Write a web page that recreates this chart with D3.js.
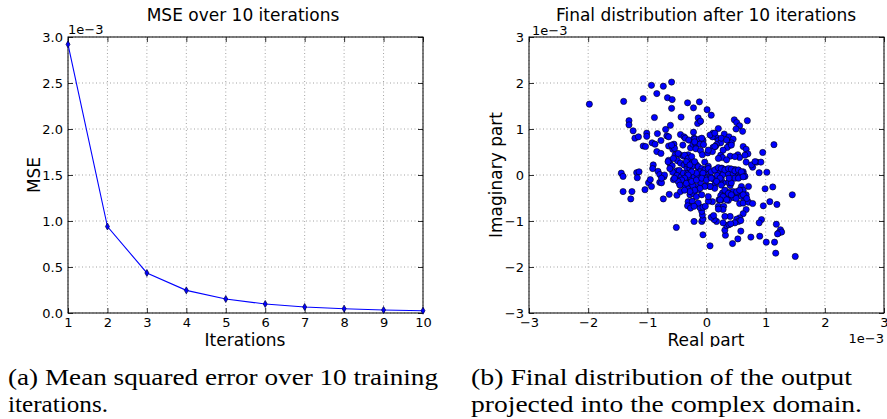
<!DOCTYPE html>
<html>
<head>
<meta charset="utf-8">
<script src="https://cdn.jsdelivr.net/npm/d3@7"></script>
<style>
  body { margin: 0; background: #fff; }
  svg { display: block; }
  .tick text { font-family: "DejaVu Sans", sans-serif; font-size: 13px; fill: #000; }
  .domain { display: none; }
  .caption { font-family: 'Liberation Serif', 'Times New Roman', serif; }
</style>
</head>
<body>
<script>
// left panel: MSE per training iteration (values are x1e-3)
const iterations = [1, 2, 3, 4, 5, 6, 7, 8, 9, 10];
const mseValues = [2.92, 0.94, 0.435, 0.246, 0.152, 0.098, 0.065, 0.047, 0.033, 0.025];
const mseTicks = [0, 0.5, 1.0, 1.5, 2.0, 2.5, 3.0];

// right panel: final outputs in the complex plane, [real, imaginary] x1e-3
const complexTicks = [-3, -2, -1, 0, 1, 2, 3];
const finalPoints = [
  [-1.98,1.54],[-1.40,1.60],[-1.07,1.66],[-0.93,1.95],[-0.73,1.93],[-0.59,2.02],[-0.84,1.77],[-0.66,1.68],
  [-0.58,1.64],[-0.59,1.45],[-0.32,1.57],[-0.22,1.46],[-1.31,1.18],[-1.31,1.09],[-1.24,0.96],[-1.21,0.80],
  [-1.15,0.83],[-1.01,0.91],[-1.01,0.84],[-1.07,0.63],[-1.03,0.62],[-0.88,1.25],[-0.83,0.90],[-0.92,0.70],
  [-0.87,0.67],[-0.77,0.75],[-0.69,0.99],[-0.61,1.08],[-0.67,0.85],[-0.64,0.83],[-0.43,1.26],[-0.44,0.88],
  [-0.38,0.83],[-0.36,0.80],[-0.30,0.76],[-0.27,0.59],[-0.23,0.67],[-0.22,0.93],[-0.21,0.80],[-0.84,0.51],
  [-0.77,0.47],[-0.64,0.63],[-0.55,0.67],[-0.57,0.56],[-0.53,0.44],[-0.45,0.44],[-0.39,0.41],[-0.31,0.44],
  [-0.64,0.32],[-0.62,0.25],[-0.58,0.20],[-0.49,0.31],[-0.44,0.26],[-0.38,0.22],[-0.33,0.15],[-0.28,0.14],
  [-0.23,0.22],[-0.21,0.28],[-0.90,0.22],[-0.91,0.14],[-0.82,0.08],[-0.50,0.09],[-1.44,0.04],[-1.18,0.05],
  [-1.14,0.07],[-0.28,0.33],[-0.32,0.24],
  [-0.12,1.59],[0.01,1.42],[0.08,1.30],[-0.14,1.24],[-0.11,1.16],[-0.15,1.12],[-0.10,1.17],[0.47,1.20],
  [0.51,1.14],[0.56,1.07],[0.61,0.95],[0.69,1.18],[0.50,1.00],[0.20,1.01],[0.11,0.91],[0.13,0.86],
  [0.16,0.82],[0.10,0.83],[0.30,0.89],[0.38,0.83],[0.45,0.78],[1.14,0.66],[0.20,0.75],[0.24,0.70],
  [0.17,0.66],[0.11,0.60],[0.15,0.62],[0.42,0.70],[0.38,0.64],[0.35,0.60],[0.62,0.62],[0.67,0.56],
  [0.70,0.46],[0.95,0.49],[-0.20,0.78],[-0.12,0.78],[-0.06,0.76],[-0.19,0.69],[-0.11,0.67],[-0.05,0.66],
  [-0.18,0.57],[-0.10,0.53],[-0.07,0.44],[0.02,0.48],[0.10,0.51],[0.24,0.43],[0.27,0.38],[0.53,0.44],
  [0.56,0.38],[0.40,0.41],[0.67,0.28],[0.78,0.17],[0.85,0.28],[0.92,0.28],[0.89,0.05],[1.02,0.06],
  [-0.21,0.26],[-0.17,0.22],[-0.24,0.19],[-0.14,0.15],[-0.03,0.28],[0.03,0.19],[-0.06,0.12],[0.00,0.07],
  [0.16,0.12],[0.26,0.15],[0.33,0.12],[0.41,0.13],[0.48,0.12],[0.55,0.08],[0.62,0.07],[0.28,0.07],
  [0.37,0.07],[0.45,0.07],[0.20,0.04],
  [-1.41,-0.03],[-1.17,-0.06],[-1.41,-0.36],[-1.26,-0.36],[-1.28,-0.52],[-1.04,-0.32],[-0.98,-0.17],[-0.95,-0.10],
  [-0.93,-0.25],[-0.79,0.01],[-0.72,-0.04],[-0.79,-0.16],[-0.76,-0.17],[-0.73,-0.52],[-0.63,-0.42],[-0.50,-0.44],
  [-0.44,-0.36],[-0.51,-1.14],[-0.57,0.06],[-0.46,0.10],[-0.50,-0.01],[-0.56,-0.10],[-0.47,-0.12],[-0.43,-0.04],
  [-0.39,0.04],[-0.36,-0.10],[-0.45,-0.21],[-0.36,-0.23],[-0.31,-0.30],[-0.28,-0.17],[-0.24,-0.10],[-0.22,0.01],
  [-0.32,0.03],[-0.28,-0.04],[-0.28,-0.43],[-0.22,-0.41],[-0.31,-0.58],[-0.24,-0.57],[-0.28,-0.68],[-0.32,-0.67],
  [-0.21,-1.01],
  [1.45,-0.43],[0.99,-0.30],[1.12,-0.26],[1.07,-0.58],[1.19,-0.64],[0.96,-0.67],[0.71,-0.25],[0.59,-0.25],
  [0.62,-0.33],[0.67,-0.43],[0.63,-0.50],[0.58,-0.46],[0.56,-0.62],[0.62,-0.61],[0.71,-0.59],[0.78,-0.62],
  [0.67,-0.75],[0.62,-0.84],[0.56,-0.93],[0.51,-0.96],[0.54,-1.01],[0.48,-1.04],[0.58,-0.99],[0.93,-0.97],
  [0.89,-1.04],[1.18,-1.07],[1.25,-1.19],[1.22,-1.26],[1.27,-1.24],[1.20,-1.28],[0.58,-1.22],[0.75,-1.35],
  [0.90,-1.33],[1.01,-1.46],[1.15,-1.46],[0.53,-1.39],[0.44,-1.49],[1.17,-1.70],[1.50,-1.77],[0.06,-1.54],
  [-0.06,-1.30],[0.32,-1.31],[0.31,-1.20],[0.34,-1.10],[0.38,-1.08],[0.41,-1.06],[0.28,-1.04],[0.17,-1.01],
  [0.13,-0.97],[0.08,-0.92],[0.12,-0.88],[-0.08,-1.01],[-0.06,-0.96],[-0.07,-0.87],[-0.08,-0.79],[-0.11,-0.71],
  [-0.06,-0.70],[0.10,-0.58],[0.21,-0.54],[0.20,-0.68],[0.29,-0.68],[0.28,-0.75],[0.20,-0.74],[0.40,-0.90],
  [0.31,-0.90],[0.03,-0.57],[-0.02,-0.68],[-0.27,-0.72],[-0.14,-0.61],[-0.21,-0.68],[0.27,-0.39],[0.32,-0.36],
  [0.38,-0.38],[0.45,-0.36],[0.51,-0.39],[0.41,-0.45],[0.34,-0.46],[0.45,-0.49],[0.50,-0.51],[0.37,-0.55],
  [0.30,-0.49],[0.24,-0.45],[0.25,-0.54],[0.40,-0.23],[0.37,-0.16],[0.42,-0.17],[0.28,-0.17],[0.25,-0.09],
  [0.12,-0.09],[0.14,-0.21],[0.06,-0.25],[-0.01,-0.23],[-0.10,-0.17],[-0.17,-0.25],[-0.23,-0.23],[-0.14,-0.32],
  [-0.21,-0.04],[-0.14,-0.03],[-0.07,-0.04],[0.00,-0.07],[0.07,-0.04],[0.18,-0.01],[0.28,0.01],[0.37,0.03],
  [0.45,0.04],[0.54,0.03],[0.62,0.03],[0.56,-0.04],[0.48,-0.07],[0.38,-0.07],[0.23,-0.07],[0.65,-0.03],
  [-0.48,0.47],[-0.37,0.43],[-0.31,0.36],[-0.25,0.40],[-0.34,0.29],[-0.28,0.22],[-0.20,0.29],[-0.14,0.18],
  [-0.08,0.14],[-0.03,0.11],[0.03,0.14],[0.08,0.07],[0.14,0.11],[0.20,0.16],[0.25,0.14],[0.31,0.11],
  [0.37,0.14],[0.42,0.13],[0.48,0.09],[0.54,0.11],[0.59,0.07],[-0.11,0.07],[-0.06,0.04],[-0.17,0.04],
  [-0.25,0.07],[-0.31,0.00],[-0.37,-0.07],[-0.42,-0.11],[-0.48,-0.14],[-0.54,-0.07],[-0.45,-0.22],[-0.34,-0.18],
  [-0.25,-0.14],[-0.17,-0.11],[-0.08,-0.07],[0.00,-0.11],[0.08,-0.07],[0.17,-0.14],[0.25,-0.22],[0.31,-0.33],
  [0.37,-0.40],[0.42,-0.43],[0.51,-0.36],[0.56,-0.33],[0.62,-0.43],[0.68,-0.51],[0.28,-0.47],[0.34,-0.54],
  [0.23,-0.54],[0.14,-0.29],[0.06,-0.25],[-0.03,-0.25],[-0.11,-0.29],[-0.20,-0.33],[-0.28,-0.36],[-0.37,-0.33],
  [-0.17,-0.47],[-0.08,-0.43],[0.03,-0.47],[-0.62,0.14],[-0.65,0.29],[-0.56,0.36],[-0.71,0.00],[-0.76,-0.07],
  [-0.54,0.58],[-0.59,0.65],[-0.40,0.65],[-0.20,0.72],[-0.08,0.80],[0.06,0.87],[0.14,0.91],[0.25,0.80],
  [0.34,0.76],[0.42,0.65],[0.14,0.62],[0.03,0.54],[0.28,0.54],[0.20,0.36],[0.34,0.33],[0.48,0.40],
  [0.65,0.43],[0.76,0.22],[0.82,0.29],[0.54,-0.07],[0.62,-0.04]
];

const W = 887, H = 419;
const FONT = '"DejaVu Sans", sans-serif';

const svg = d3.select('body').append('svg')
    .attr('width', W)
    .attr('height', H);

svg.append('rect').attr('width', W).attr('height', H).attr('fill', '#fff');

// the figure was cropped just under the x axis labels
svg.append('clipPath').attr('id', 'figClip')
  .append('rect').attr('x', 0).attr('y', 0).attr('width', W).attr('height', 347);

const fig = svg.append('g').attr('clip-path', 'url(#figClip)');

// frame, dotted grid and inward ticks on all four sides (classic matplotlib look)
function drawFrame(g, x, y, xTicks, yTicks, xFmt, yFmt) {
    let [x0, x1] = x.range();
    let [y0, y1] = y.range(); // y0 bottom, y1 top

    let grid = g.append('g')
        .attr('stroke', '#8c8c8c')
        .attr('stroke-width', 0.8)
        .attr('stroke-dasharray', '1,2.5');
    grid.selectAll('.gx').data(xTicks).enter().append('line')
        .attr('x1', d => x(d)).attr('x2', d => x(d))
        .attr('y1', y0).attr('y2', y1);
    grid.selectAll('.gy').data(yTicks).enter().append('line')
        .attr('y1', d => y(d)).attr('y2', d => y(d))
        .attr('x1', x0).attr('x2', x1);

    g.append('g').attr('transform', 'translate(0,' + y0 + ')')
        .call(d3.axisBottom(x).tickValues(xTicks).tickSize(-5).tickPadding(5).tickFormat(xFmt));
    g.append('g').attr('transform', 'translate(0,' + y1 + ')')
        .call(d3.axisTop(x).tickValues(xTicks).tickSize(-5).tickFormat(''));
    g.append('g').attr('transform', 'translate(' + x0 + ',0)')
        .call(d3.axisLeft(y).tickValues(yTicks).tickSize(-5).tickPadding(5).tickFormat(yFmt));
    g.append('g').attr('transform', 'translate(' + x1 + ',0)')
        .call(d3.axisRight(y).tickValues(yTicks).tickSize(-5).tickFormat(''));

    g.selectAll('.tick line').attr('stroke', '#000').attr('stroke-width', 0.8);

    g.append('rect')
        .attr('x', x0).attr('y', y1)
        .attr('width', x1 - x0).attr('height', y0 - y1)
        .attr('fill', 'none')
        .attr('stroke', '#000')
        .attr('stroke-width', 1);
}

function addText(g, txt, x, y, size, anchor, rotate) {
    let t = g.append('text')
        .attr('x', x).attr('y', y)
        .attr('font-family', FONT)
        .attr('font-size', size)
        .attr('text-anchor', anchor || 'middle')
        .text(txt);
    if (rotate) t.attr('transform', 'rotate(' + rotate + ',' + x + ',' + y + ')');
    return t;
}

// ---- (a) MSE over iterations ----
const xA = d3.scaleLinear().domain([1, 10]).range([68, 423]);
const yA = d3.scaleLinear().domain([0, 3]).range([313, 37]);
const gA = fig.append('g');

drawFrame(gA, xA, yA, iterations, mseTicks, d3.format('d'), d3.format('.1f'));

const mseData = iterations.map((it, i) => ({ it: it, v: mseValues[i] }));

gA.append('path')
    .datum(mseData)
    .attr('fill', 'none')
    .attr('stroke', '#0000ff')
    .attr('stroke-width', 1.1)
    .attr('d', d3.line().x(d => xA(d.it)).y(d => yA(d.v)));

gA.selectAll('.mk').data(mseData).enter().append('path')
    .attr('transform', d => 'translate(' + xA(d.it) + ',' + yA(d.v) + ')')
    .attr('d', 'M0,-3.5L2,0L0,3.5L-2,0Z')
    .attr('fill', '#0000ff')
    .attr('stroke', '#000040')
    .attr('stroke-width', 0.7);

addText(gA, 'MSE over 10 iterations', 243, 21, 17);
addText(gA, '1e\u22123', 68, 34, 13, 'start');
addText(gA, 'Iterations', 245, 346, 17);
addText(gA, 'MSE', 40, 175, 17, 'middle', -90);

// ---- (b) final distribution ----
const xB = d3.scaleLinear().domain([-3, 3]).range([529, 884]);
const yB = d3.scaleLinear().domain([-3, 3]).range([313, 37]);
const gB = fig.append('g');

drawFrame(gB, xB, yB, complexTicks, complexTicks, d3.format('d'), d3.format('d'));

gB.selectAll('.pt').data(finalPoints).enter().append('circle')
    .attr('cx', d => xB(d[0]))
    .attr('cy', d => yB(d[1]))
    .attr('r', 3.1)
    .attr('fill', '#0000ff')
    .attr('stroke', '#000')
    .attr('stroke-width', 0.6);

addText(gB, 'Final distribution after 10 iterations', 706, 21, 17);
addText(gB, '1e\u22123', 532, 35, 13, 'start');
addText(gB, '1e\u22123', 884, 343, 13, 'end');
addText(gB, 'Real part', 706, 346, 17);
addText(gB, 'Imaginary part', 502, 175, 17, 'middle', -90);

// ---- captions ----
const captions = [
    { txt: '(a) Mean squared error over 10 training', x: 8, y: 385, len: 430 },
    { txt: 'iterations.', x: 8, y: 412, len: 100 },
    { txt: '(b) Final distribution of the output', x: 471, y: 385, len: 381 },
    { txt: 'projected into the complex domain.', x: 471, y: 412, len: 391 }
];

svg.selectAll('.cap').data(captions).enter().append('text')
    .attr('class', 'caption')
    .attr('x', d => d.x)
    .attr('y', d => d.y)
    .attr('font-size', 23)
    .attr('textLength', d => d.len)
    .attr('lengthAdjust', 'spacingAndGlyphs')
    .text(d => d.txt);
</script>
</body>
</html>
